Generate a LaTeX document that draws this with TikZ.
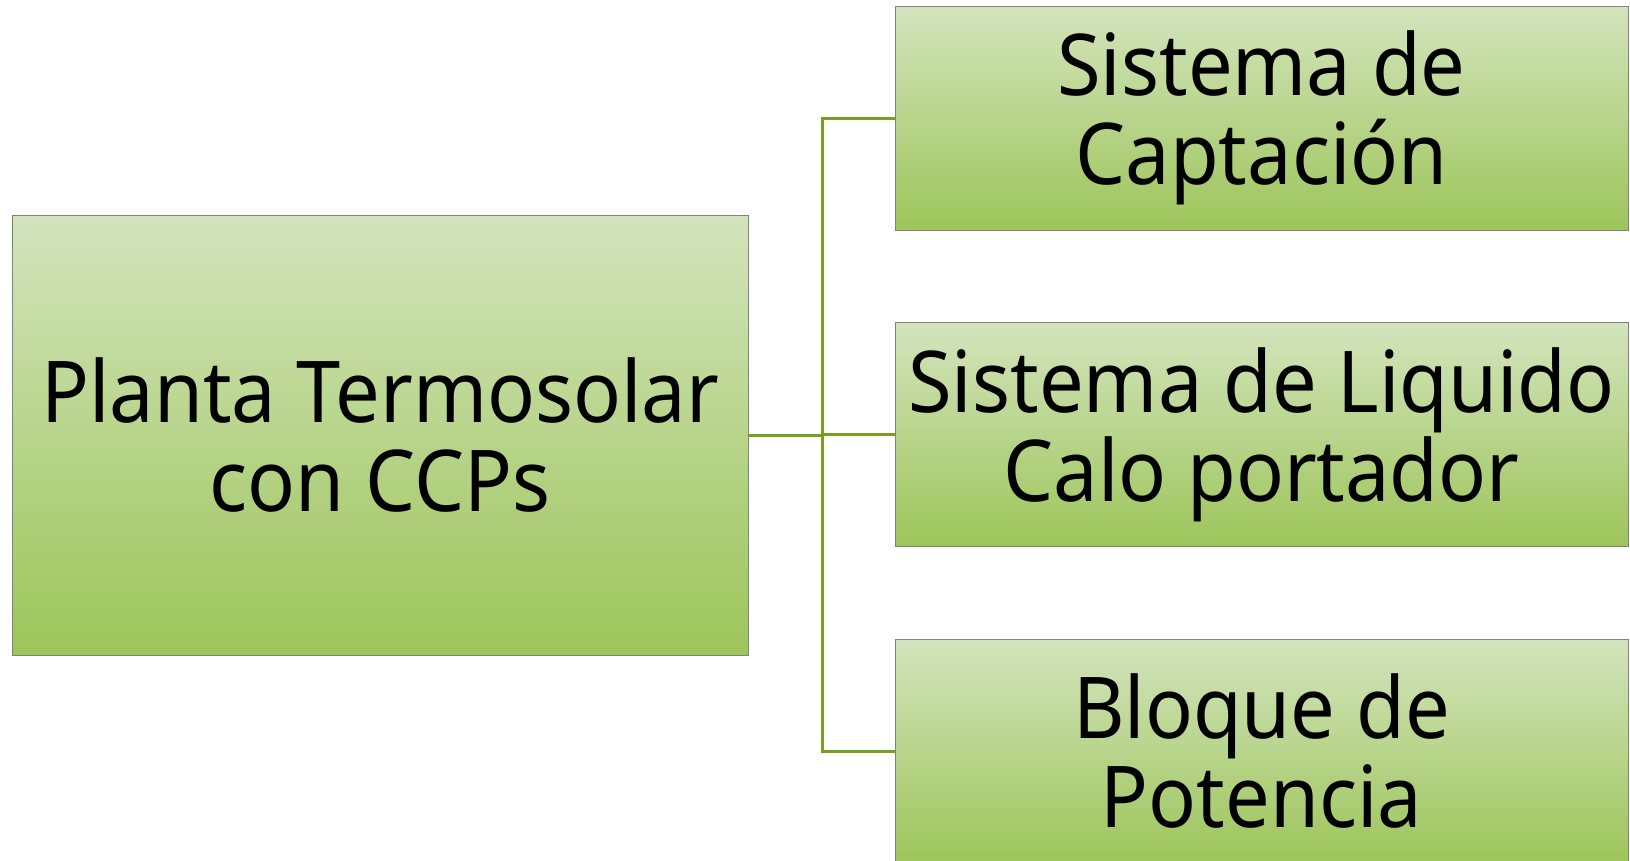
\documentclass[tikz,border=0pt]{standalone}
\usepackage{fontspec}
\setmainfont{Noto Sans}[FakeStretch=0.93]
\usepackage[dvipsnames]{xcolor}
\definecolor{ramaverde}{RGB}{118,160,30}
\definecolor{cajaarriba}{RGB}{211,228,189}
\definecolor{cajaabajo}{RGB}{157,197,90}
\definecolor{cajaborde}{RGB}{128,128,128}

\begin{document}
\begin{tikzpicture}[x=0.75pt,y=0.75pt,yscale=-1,xscale=1,
  caja/.style={draw=cajaborde, line width=0.6pt, top color=cajaarriba, bottom color=cajaabajo,
    align=center, inner sep=0pt, font={\fontsize{64}{67}\selectfont}},
  cajagrande/.style={caja, minimum width=552pt, minimum height=330pt},
  cajachica/.style={caja, minimum width=549.75pt, minimum height=168pt},
  rama/.style={draw=ramaverde, line width=2.25pt}]
\useasboundingbox (0,0) rectangle (1630,860);

% Boxes
\node [cajagrande] (planta) at (380,435) {Planta Termosolar\\con CCPs};
\node [cajachica] (captacion) at (1261.5,118) {Sistema de\\Captación};
\node [cajachica] (liquido) at (1261.5,434.5) {Sistema de Liquido\\Calo portador};
\node [cajachica] (potencia) at (1261.5,751) {Bloque de\\Potencia};

%Straight Lines
\coordinate (bus) at (822,435);
\draw [rama] (planta.east) -- (bus);
\foreach \destino in {captacion,liquido,potencia}
  \draw [rama] (bus) |- (\destino.west);

\end{tikzpicture}
\end{document}
